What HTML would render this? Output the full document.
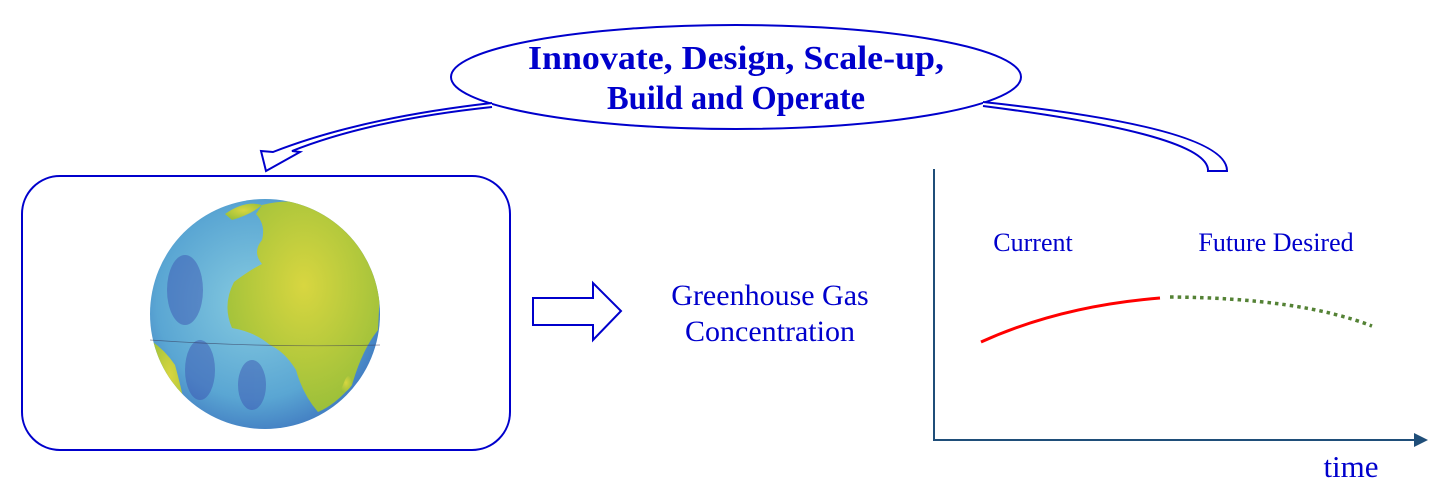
<!DOCTYPE html>
<html><head><meta charset="utf-8"><style>
html,body{margin:0;padding:0;background:#fff;}
svg{display:block;}
</style></head><body>
<svg width="1455" height="496" viewBox="0 0 1455 496" xmlns="http://www.w3.org/2000/svg">
<defs>
<radialGradient id="oc" cx="0.45" cy="0.45" r="0.6">
<stop offset="0" stop-color="#86cbe0"/><stop offset="0.7" stop-color="#5aa6d3"/><stop offset="1" stop-color="#3f78c0"/>
</radialGradient>
<radialGradient id="ld" cx="0.5" cy="0.4" r="0.6">
<stop offset="0" stop-color="#d8d640"/><stop offset="1" stop-color="#9cc03a"/>
</radialGradient>
<clipPath id="gc"><circle cx="265" cy="314" r="115"/></clipPath>
</defs>
<ellipse cx="736" cy="77" rx="285" ry="52" fill="#fff" stroke="#0000cc" stroke-width="2"/>
<g font-family="'Liberation Serif',serif" font-weight="bold" font-size="34" fill="#0000cc" text-anchor="middle">
<text x="736" y="69" textLength="416" lengthAdjust="spacingAndGlyphs">Innovate, Design, Scale-up,</text>
<text x="736" y="109" textLength="258" lengthAdjust="spacingAndGlyphs">Build and Operate</text>
</g>
<path d="M492,103 Q360,118 273,152 L261,151 L266,171 L300,152 L292,151 Q370,120 492,107" fill="#fff" stroke="#0000cc" stroke-width="2"/>
<path d="M983,102 Q1228,128 1227,171 L1208,171 Q1210,135 983,106" fill="#fff" stroke="#0000cc" stroke-width="2"/>
<rect x="22" y="176" width="488" height="274" rx="38" ry="38" fill="#fff" stroke="#0000cc" stroke-width="2"/>
<circle cx="265" cy="314" r="115" fill="url(#oc)"/>
<g clip-path="url(#gc)" fill="url(#ld)">
<path d="M262,205 Q290,198 310,205 Q335,215 355,228 Q375,255 380,290 L378,330 Q362,350 352,385 Q335,405 318,412 Q303,395 296,370 Q285,352 270,345 Q255,332 232,328 Q222,305 234,282 Q250,270 262,264 Q252,252 262,240 Q266,225 256,214 Z"/>
<path d="M225,214 Q245,200 262,205 Q252,214 232,220 Z"/>
<path d="M150,340 Q165,350 175,365 Q182,390 190,430 L150,430 Z"/>
<path d="M345,380 Q350,370 352,385 Q345,395 340,392 Z"/>
</g>
<g clip-path="url(#gc)" fill="#3a4fb0" opacity="0.45">
<ellipse cx="185" cy="290" rx="18" ry="35"/>
<ellipse cx="200" cy="370" rx="15" ry="30"/>
<ellipse cx="252" cy="385" rx="14" ry="25"/>
</g>
<path d="M150,340 Q265,348 380,345" fill="none" stroke="#335" stroke-width="0.7" opacity="0.6"/>
<path d="M533,298 L593,298 L593,283 L621,311 L593,340 L593,325 L533,325 Z" fill="#fff" stroke="#0000cc" stroke-width="2"/>
<g font-family="'Liberation Serif',serif" font-size="30" fill="#0000cc" text-anchor="middle">
<text x="770" y="305">Greenhouse Gas</text>
<text x="770" y="341">Concentration</text>
</g>
<line x1="934" y1="169" x2="934" y2="440" stroke="#1f4e79" stroke-width="2"/>
<line x1="933" y1="440" x2="1415" y2="440" stroke="#1f4e79" stroke-width="2"/>
<path d="M1414,433 L1428,440 L1414,447 Z" fill="#1f4e79"/>
<g font-family="'Liberation Serif',serif" font-size="26" fill="#0000cc" text-anchor="middle">
<text x="1033" y="251">Current</text>
<text x="1276" y="251">Future Desired</text>
<text x="1351" y="477" font-size="31">time</text>
</g>
<path d="M981,342 Q1060,306 1160,298" fill="none" stroke="#ff0000" stroke-width="3"/>
<path d="M1170,297 Q1300,298 1372,326" fill="none" stroke="#548235" stroke-width="3.5" stroke-dasharray="3.5 4"/>
</svg>
</body></html>
